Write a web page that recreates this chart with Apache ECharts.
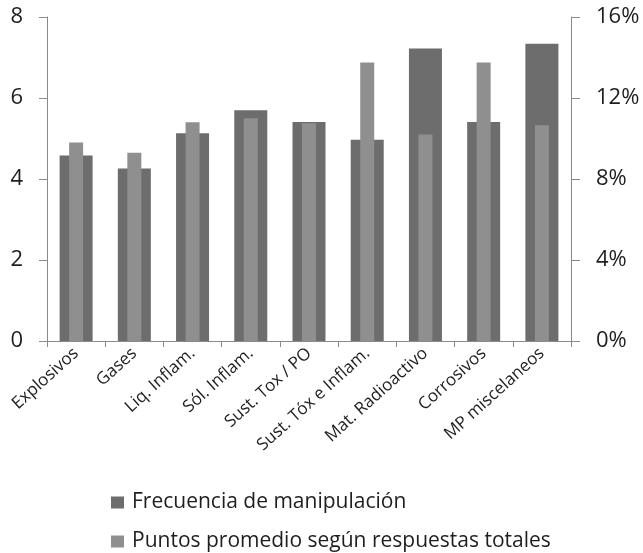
<!DOCTYPE html>
<html><head><meta charset="utf-8">
<script src="https://cdn.jsdelivr.net/npm/echarts@6/dist/echarts.min.js"></script>
<style>html,body{margin:0;padding:0;background:#fff}#c{width:643px;height:553px}</style>
</head><body><div id="c"></div>
<script>
const categories = ['Explosivos','Gases','Liq. Inflam.','Sól. Inflam.','Sust. Tox / PO','Sust. Tóx e Inflam.','Mat. Radioactivo','Corrosivos','MP miscelaneos'];
const frecuencia = [4.58, 4.26, 5.13, 5.70, 5.41, 4.97, 7.22, 5.41, 7.34];
const puntos = [9.8, 9.3, 10.8, 11.0, 10.75, 13.75, 10.2, 13.75, 10.65];
const leftTicks = [0, 2, 4, 6, 8];
const rightTicks = [0, 4, 8, 12, 16];
const seriesNames = ['Frecuencia de manipulación','Puntos promedio según respuestas totales'];

const font = 'Open Sans';
const txt = '#1e1e1e';
const axisCol = '#8a8a8a';
const legendStyle = {
  orient: 'horizontal', left: 111, padding: 0,
  itemWidth: 13, itemHeight: 12, itemGap: 8, icon: 'rect',
  textStyle: {fontFamily: font, fontSize: 21, color: txt, padding: [0,0,0,3]}
};
const chart = echarts.init(document.getElementById('c'));
chart.setOption({
  animation: false,
  grid: {left: 47, right: 72, top: 17, bottom: 212},
  legend: [
    Object.assign({}, legendStyle, {top: 492, data: [seriesNames[0]]}),
    Object.assign({}, legendStyle, {top: 531, data: [seriesNames[1]]})
  ],
  xAxis: [{
    type: 'category', data: categories,
    axisLine: {lineStyle: {color: axisCol}},
    axisTick: {show: true, length: 6, lineStyle: {color: axisCol}},
    axisLabel: {rotate: 42, fontFamily: font, fontSize: 17, color: txt, margin: 10, interval: 0}
  }, {
    type: 'category', data: categories, show: false
  }],
  yAxis: [{
    type: 'value', min: leftTicks[0], max: leftTicks[leftTicks.length-1], interval: 2,
    axisLine: {show: true, lineStyle: {color: axisCol}},
    axisTick: {show: true, length: 8, lineStyle: {color: axisCol}},
    splitLine: {show: false},
    axisLabel: {fontFamily: font, fontSize: 22, color: txt, margin: 24}
  }, {
    type: 'value', min: rightTicks[0], max: rightTicks[rightTicks.length-1], interval: 4,
    position: 'right',
    axisLine: {show: true, lineStyle: {color: axisCol}},
    axisTick: {show: true, length: 9, lineStyle: {color: axisCol}},
    splitLine: {show: false},
    axisLabel: {fontFamily: font, fontSize: 22, color: txt, margin: 25, formatter: v => v + '%'}
  }],
  series: [{
    name: seriesNames[0], type: 'bar', data: frecuencia,
    xAxisIndex: 0, yAxisIndex: 0, barWidth: 33,
    itemStyle: {color: '#6d6d6d'}
  }, {
    name: seriesNames[1], type: 'bar', data: puntos,
    xAxisIndex: 1, yAxisIndex: 1, barWidth: 14,
    itemStyle: {color: '#8f8f8f'}
  }]
});
</script></body></html>
